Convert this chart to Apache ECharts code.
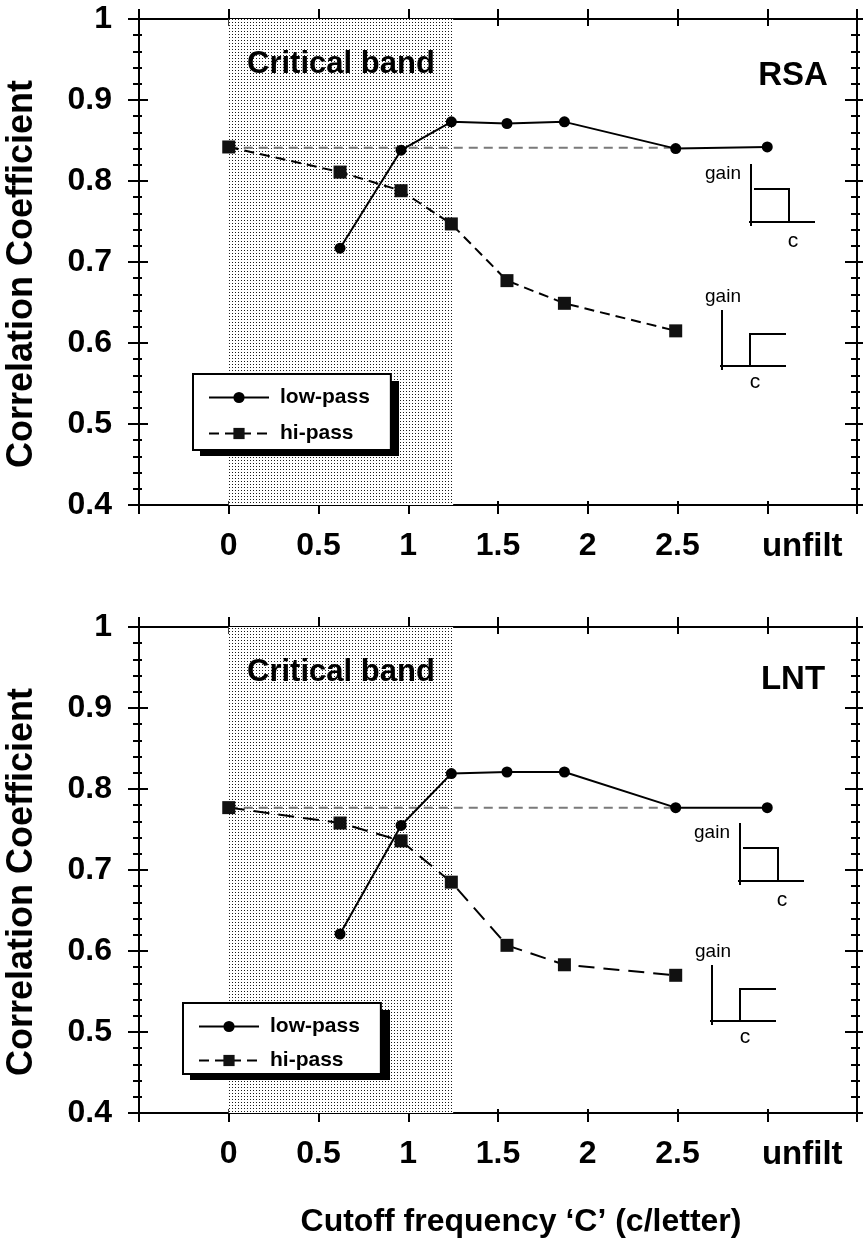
<!DOCTYPE html>
<html>
<head>
<meta charset="utf-8">
<title>Correlation coefficient vs cutoff frequency</title>
<script src="https://cdn.jsdelivr.net/npm/echarts@6.0.0/dist/echarts.min.js"></script>
<style>
  html, body { margin: 0; padding: 0; background: #fff; }
  #main { width: 864px; height: 1245px; }
</style>
</head>
<body>
<div id="main"></div>
<script>
// cutoff frequency (c/letter), 3 stands for "unfilt"
var lowX = [0.62, 0.96, 1.24, 1.55, 1.87, 2.49, 3];
var hiX = [0, 0.62, 0.96, 1.24, 1.55, 1.87, 2.49];

// RSA panel
var rsaLow = [0.717, 0.838, 0.873, 0.871, 0.873, 0.840, 0.842];
var rsaHi = [0.842, 0.811, 0.788, 0.747, 0.677, 0.649, 0.615];
var rsaRef = 0.841;

// LNT panel
var lntLow = [0.621, 0.755, 0.819, 0.821, 0.821, 0.777, 0.777];
var lntHi = [0.777, 0.758, 0.736, 0.685, 0.607, 0.583, 0.570];
var lntRef = 0.777;

var refX = [0, 2.49];
var bandX = [0, 1.25];

var xTickVals = [0, 0.5, 1, 1.5, 2, 2.5, 3];
var xTickText = ['0', '0.5', '1', '1.5', '2', '2.5', 'unfilt'];

var FONT = '"Liberation Sans", Arial, Helvetica, sans-serif';

function pairs(xs, ys) {
  return xs.map(function (x, i) { return [x, ys[i]]; });
}

// dotted fill for the critical band
function dotPattern() {
  var c = document.createElement('canvas');
  c.width = 3; c.height = 3;
  var g = c.getContext('2d');
  g.fillStyle = '#fff';
  g.fillRect(0, 0, 3, 3);
  g.fillStyle = '#1a1a1a';
  g.fillRect(1, 1, 1, 1);
  return c;
}
var pattern = dotPattern();

function xLabel(v) {
  var i = xTickVals.indexOf(Math.round(v * 100) / 100);
  if (i < 0) return '';
  if (xTickText[i] === 'unfilt') return '{u|unfilt}';
  return xTickText[i];
}

function xAxes(gi) {
  var base = { type: 'value', gridIndex: gi, min: -0.5, max: 3.5, interval: 0.5,
    splitLine: { show: false } };
  var blk = { color: '#000', width: 2 };
  return [
    Object.assign({}, base, { position: 'bottom',
      axisLine: { show: true, onZero: false, lineStyle: blk },
      axisTick: { show: true, length: 9, lineStyle: blk },
      axisLabel: { show: true, interval: 0, margin: 25, color: '#000', fontFamily: FONT,
        fontWeight: 'bold', fontSize: 32, formatter: xLabel,
        rich: { u: { fontFamily: FONT, fontWeight: 'bold', fontSize: 33, color: '#000',
          padding: [0, 0, 0, 70] } } } }),
    Object.assign({}, base, { position: 'bottom',
      axisLine: { show: false, onZero: false },
      axisTick: { show: true, inside: true, length: 4, lineStyle: blk },
      axisLabel: { show: false } }),
    Object.assign({}, base, { position: 'top',
      axisLine: { show: true, onZero: false, lineStyle: blk },
      axisTick: { show: true, length: 10, lineStyle: blk },
      axisLabel: { show: false } }),
    Object.assign({}, base, { position: 'top',
      axisLine: { show: false, onZero: false },
      axisTick: { show: true, inside: true, length: 7, lineStyle: blk },
      axisLabel: { show: false } })
  ];
}

function yAxes(gi) {
  var base = { type: 'value', gridIndex: gi, min: 0.4, max: 1, interval: 0.1,
    splitLine: { show: false } };
  var blk = { color: '#000', width: 2 };
  return [
    Object.assign({}, base, { position: 'left',
      name: 'Correlation Coefficient', nameLocation: 'middle', nameRotate: 90, nameGap: 99,
      nameTextStyle: { fontFamily: FONT, fontWeight: 'bold', fontSize: 36, color: '#000',
        padding: [0, 24, 0, 0] },
      axisLine: { show: true, onZero: false, lineStyle: blk },
      axisTick: { show: true, length: 11, lineStyle: blk },
      minorTick: { show: true, splitNumber: 5, length: 6, lineStyle: blk },
      axisLabel: { show: true, margin: 27, color: '#000', fontFamily: FONT,
        fontWeight: 'bold', fontSize: 32, padding: [5, 0, 0, 0] } }),
    Object.assign({}, base, { position: 'left',
      axisLine: { show: false, onZero: false },
      axisTick: { show: true, inside: true, length: 9, lineStyle: blk },
      minorTick: { show: true, splitNumber: 5, length: 3, lineStyle: blk },
      axisLabel: { show: false } }),
    Object.assign({}, base, { position: 'right',
      axisLine: { show: true, onZero: false, lineStyle: blk },
      axisTick: { show: true, length: 6, lineStyle: blk },
      minorTick: { show: true, splitNumber: 5, length: 3, lineStyle: blk },
      axisLabel: { show: false } }),
    Object.assign({}, base, { position: 'right',
      axisLine: { show: false, onZero: false },
      axisTick: { show: true, inside: true, length: 12, lineStyle: blk },
      minorTick: { show: true, splitNumber: 5, length: 6, lineStyle: blk },
      axisLabel: { show: false } })
  ];
}

function panelSeries(gi, low, hi, ref, hiDash) {
  var ax = gi * 4;
  return [
    {
      name: 'ref', type: 'line', xAxisIndex: ax, yAxisIndex: ax, z: 1,
      data: pairs(refX, [ref, ref]), symbol: 'none', silent: true,
      lineStyle: { color: '#7a7a7a', width: 2, type: [9, 6] },
      markArea: {
        silent: true,
        itemStyle: { color: { image: pattern, repeat: 'repeat' } },
        label: { show: true, position: 'insideTop', distance: 30, color: '#000',
          fontFamily: FONT, fontWeight: 'bold', fontSize: 31 },
        data: [[{ xAxis: bandX[0], name: 'Critical band' }, { xAxis: bandX[1] }]]
      }
    },
    {
      name: 'low-pass', type: 'line', xAxisIndex: ax, yAxisIndex: ax, z: 3,
      data: pairs(lowX, low), symbol: 'circle', symbolSize: 11,
      itemStyle: { color: '#000' },
      lineStyle: { color: '#000', width: 2 }
    },
    {
      name: 'hi-pass', type: 'line', xAxisIndex: ax, yAxisIndex: ax, z: 3,
      data: pairs(hiX, hi), symbol: 'rect', symbolSize: 13,
      itemStyle: { color: '#111' },
      lineStyle: { color: '#000', width: 2, type: hiDash }
    }
  ];
}

function legendAt(left, top, pad, gap) {
  return {
    data: ['low-pass', 'hi-pass'], orient: 'vertical', left: left, top: top, z: 6,
    selectedMode: false,
    backgroundColor: '#fff', borderColor: '#000', borderWidth: 2, borderRadius: 0,
    padding: pad, itemGap: gap, itemWidth: 60, itemHeight: 14,
    textStyle: { fontFamily: FONT, fontWeight: 'bold', fontSize: 21, color: '#000',
      padding: [0, 0, 0, 6] }
  };
}

// hard drop shadow behind a legend box
function shadowBox(x, y, w, h) {
  return { type: 'rect', z: 5, shape: { x: x + 7, y: y + 7, width: w, height: h },
    style: { fill: '#000' } };
}

// small "gain" filter sketches
function lowIcon(x, b) {
  var st = { stroke: '#000', lineWidth: 2, fill: null };
  return [
    { type: 'line', shape: { x1: x, y1: b - 58, x2: x, y2: b + 4 }, style: st },
    { type: 'line', shape: { x1: x - 2, y1: b, x2: x + 64, y2: b }, style: st },
    { type: 'polyline', shape: { points: [[x + 3, b - 33], [x + 38, b - 33], [x + 38, b]] }, style: st },
    { type: 'text', x: x - 28, y: b - 48, style: { text: 'gain', fontFamily: FONT, fontSize: 19,
      fill: '#000', align: 'center', verticalAlign: 'middle' } },
    { type: 'text', x: x + 42, y: b + 19, style: { text: 'c', fontFamily: FONT, fontSize: 21,
      fill: '#000', align: 'center', verticalAlign: 'middle' } }
  ];
}
function hiIcon(x, b) {
  var st = { stroke: '#000', lineWidth: 2, fill: null };
  return [
    { type: 'line', shape: { x1: x, y1: b - 56, x2: x, y2: b + 4 }, style: st },
    { type: 'line', shape: { x1: x - 2, y1: b, x2: x + 64, y2: b }, style: st },
    { type: 'polyline', shape: { points: [[x + 28, b], [x + 28, b - 32], [x + 64, b - 32]] }, style: st },
    { type: 'text', x: x + 1, y: b - 69, style: { text: 'gain', fontFamily: FONT, fontSize: 19,
      fill: '#000', align: 'center', verticalAlign: 'middle' } },
    { type: 'text', x: x + 33, y: b + 16, style: { text: 'c', fontFamily: FONT, fontSize: 21,
      fill: '#000', align: 'center', verticalAlign: 'middle' } }
  ];
}

var chart = echarts.init(document.getElementById('main'), null, { renderer: 'canvas' });

var option = {
  animation: false,
  backgroundColor: '#fff',
  grid: [
    { left: 139, right: 7, top: 19, height: 486, containLabel: false, outerBoundsMode: 'none' },
    { left: 139, right: 7, top: 627, height: 486, containLabel: false, outerBoundsMode: 'none' }
  ],
  xAxis: xAxes(0).concat(xAxes(1)),
  yAxis: yAxes(0).concat(yAxes(1)),
  legend: [
    legendAt(193, 374, [13, 21, 6, 15], 15),
    legendAt(183, 1003, [13, 21, 3, 15], 13)
  ],
  series: panelSeries(0, rsaLow, rsaHi, rsaRef, [10, 6])
    .concat(panelSeries(1, lntLow, lntHi, lntRef, [16, 9])),
  graphic: [
    shadowBox(193, 374, 199, 75),
    shadowBox(183, 1003, 200, 70),
    { type: 'text', x: 793, y: 76, style: { text: 'RSA', fontFamily: FONT, fontWeight: 'bold',
      fontSize: 33, fill: '#000', align: 'center', verticalAlign: 'middle' } },
    { type: 'text', x: 793, y: 680, style: { text: 'LNT', fontFamily: FONT, fontWeight: 'bold',
      fontSize: 33, fill: '#000', align: 'center', verticalAlign: 'middle' } },
    { type: 'text', x: 521, y: 1222, style: { text: 'Cutoff frequency \u2018C\u2019 (c/letter)',
      fontFamily: FONT, fontWeight: 'bold', fontSize: 32, fill: '#000',
      align: 'center', verticalAlign: 'middle' } }
  ].concat(lowIcon(751, 222), hiIcon(722, 366), lowIcon(740, 881), hiIcon(712, 1021))
};

chart.setOption(option);
</script>
</body>
</html>
